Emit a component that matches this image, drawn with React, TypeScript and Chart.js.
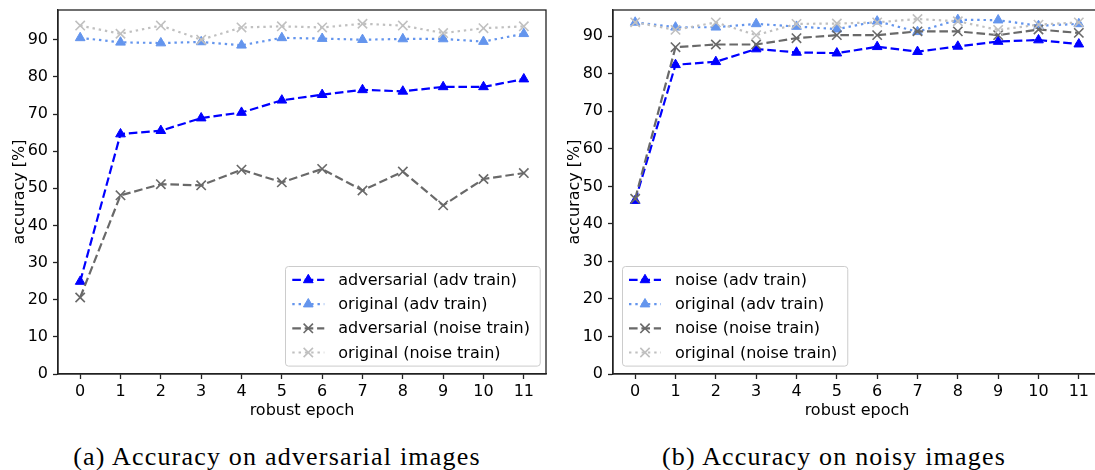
import React, { useEffect, useRef } from "react";
import { Chart, registerables } from "chart.js";
import { drawPoint } from "chart.js/helpers";

Chart.register(...registerables);

// ---------- data ----------
const epochs = [0, 1, 2, 3, 4, 5, 6, 7, 8, 9, 10, 11];
const yTickValues = [0, 10, 20, 30, 40, 50, 60, 70, 80, 90];

// (a) accuracy on adversarial images
const aAdversarialAdvTrain = [24.9, 64.6, 65.5, 68.9, 70.4, 73.7, 75.2, 76.5, 76.1, 77.3, 77.3, 79.4];
const aOriginalAdvTrain = [90.5, 89.3, 89.1, 89.4, 88.5, 90.5, 90.3, 90.0, 90.2, 90.2, 89.5, 91.6];
const aAdversarialNoiseTrain = [20.6, 48.1, 51.1, 50.8, 55.0, 51.6, 55.2, 49.4, 54.5, 45.4, 52.5, 54.1];
const aOriginalNoiseTrain = [93.8, 91.6, 93.8, 90.0, 93.3, 93.6, 93.3, 94.3, 93.8, 91.8, 93.1, 93.6];

// (b) accuracy on noisy images
const bNoiseAdvTrain = [46.2, 82.4, 83.2, 86.6, 85.7, 85.5, 87.2, 85.9, 87.3, 88.6, 89.0, 87.9];
const bOriginalAdvTrain = [93.7, 92.4, 92.4, 93.3, 92.6, 91.9, 94.0, 91.2, 94.4, 94.3, 92.8, 93.3];
const bNoiseNoiseTrain = [46.7, 87.1, 87.8, 87.8, 89.5, 90.3, 90.3, 91.3, 91.3, 90.3, 91.8, 90.9];
const bOriginalNoiseTrain = [93.7, 91.7, 93.7, 90.3, 93.3, 93.4, 93.7, 94.6, 94.0, 91.7, 93.1, 93.7];

const labelsA = ["adversarial (adv train)", "original (adv train)", "adversarial (noise train)", "original (noise train)"];
const labelsB = ["noise (adv train)", "original (adv train)", "noise (noise train)", "original (noise train)"];

const captionA = "(a) Accuracy on adversarial images";
const captionB = "(b) Accuracy on noisy images";
const xTitle = "robust epoch";
const yTitle = "accuracy [%]";

// ---------- styles ----------
const FONT = '"DejaVu Sans"';
const FS = 16;
const LW = 2.2;
const DASHED = [8.6, 3.8];
const DOTTED = [2.4, 3.9];
const styles = [
  { color: "#0000ff", dash: DASHED, marker: "triangle" },
  { color: "#6495ed", dash: DOTTED, marker: "triangle" },
  { color: "#696969", dash: DASHED, marker: "crossRot" },
  { color: "#c0c0c0", dash: DOTTED, marker: "crossRot" },
];

function makeDatasets(labels: string[], series: number[][]) {
  return series.map((vals, i) => {
    const st = styles[i];
    const isTri = st.marker === "triangle";
    return {
      label: labels[i],
      data: vals.map((v, j) => ({ x: epochs[j], y: v })),
      borderColor: st.color,
      backgroundColor: st.color,
      borderWidth: LW,
      borderDash: st.dash,
      borderCapStyle: "butt",
      pointStyle: st.marker,
      pointRadius: isTri ? 5.6 : 6.6,
      pointBorderWidth: isTri ? 1 : 1.6,
      pointBackgroundColor: st.color,
      pointBorderColor: st.color,
      tension: 0,
      order: series.length - i,
    };
  });
}

const framePlugin = {
  id: "frame",
  afterDatasetsDraw(chart: any) {
    const { ctx, chartArea } = chart;
    ctx.save();
    ctx.strokeStyle = "#222";
    ctx.lineWidth = 1.3;
    ctx.strokeRect(chartArea.left, chartArea.top, chartArea.right - chartArea.left, chartArea.bottom - chartArea.top);
    ctx.restore();
  },
};

const legendPlugin = {
  id: "mplLegend",
  afterDraw(chart: any, _args: any, opts: any) {
    const { ctx, chartArea } = chart;
    const ds = chart.data.datasets as any[];
    ctx.save();
    ctx.font = `${FS}px ${FONT}`;
    const textW = Math.max(...ds.map((d) => ctx.measureText(d.label).width));
    const padL = 7, handle = 32, gap = 14, padR = 10, padY = 13.5, rowH = 24.2;
    const w = padL + handle + gap + textW + padR;
    const h = padY * 2 + rowH * (ds.length - 1);
    const x0 = opts.side === "right" ? chartArea.right - 6 - w : chartArea.left + 9;
    const y0 = chartArea.bottom - 8 - h;
    ctx.beginPath();
    (ctx as any).roundRect(Math.round(x0) + 0.5, Math.round(y0) + 0.5, w, h, 3);
    ctx.fillStyle = "rgba(255,255,255,0.8)";
    ctx.fill();
    ctx.strokeStyle = "#cccccc";
    ctx.lineWidth = 1;
    ctx.stroke();
    ds.forEach((d, i) => {
      const cy = y0 + padY + i * rowH;
      ctx.save();
      ctx.strokeStyle = d.borderColor;
      ctx.lineWidth = d.borderWidth;
      ctx.lineCap = "butt";
      ctx.setLineDash(d.borderDash || []);
      ctx.beginPath();
      ctx.moveTo(x0 + padL, cy);
      ctx.lineTo(x0 + padL + handle, cy);
      ctx.stroke();
      ctx.setLineDash([]);
      ctx.fillStyle = d.pointBackgroundColor;
      ctx.strokeStyle = d.pointBorderColor;
      ctx.lineWidth = d.pointBorderWidth;
      drawPoint(ctx, { pointStyle: d.pointStyle, rotation: 0, radius: d.pointRadius, borderWidth: d.pointBorderWidth }, x0 + padL + handle / 2, cy);
      ctx.restore();
      ctx.fillStyle = "#000";
      ctx.textBaseline = "middle";
      ctx.textAlign = "left";
      ctx.fillText(d.label, x0 + padL + handle + gap, cy + 1);
    });
    ctx.restore();
  },
};

function makeConfig(labels: string[], series: number[][], yMax: number, side: string): any {
  return {
    type: "line",
    data: { datasets: makeDatasets(labels, series) },
    plugins: [framePlugin, legendPlugin],
    options: {
      animation: false,
      responsive: false,
      events: [],
      layout: { padding: { left: 0, top: 10, right: 14, bottom: 0 } },
      plugins: {
        legend: { display: false },
        tooltip: { enabled: false },
        mplLegend: { side },
      },
      scales: {
        x: {
          type: "linear",
          min: -0.55,
          max: 11.55,
          afterBuildTicks: (s: any) => {
            s.ticks = epochs.map((v) => ({ value: v }));
          },
          afterFit: (s: any) => {
            s.height = 56;
            s.paddingLeft = 0;
            s.paddingRight = 0;
            s.paddingTop = 0;
            s.paddingBottom = 0;
          },
          grid: { drawOnChartArea: false, drawTicks: true, tickLength: 5, tickColor: "#222", tickWidth: 1.3 },
          border: { display: true, color: "#222", width: 1.3 },
          ticks: { color: "#000", font: { family: FONT, size: FS }, padding: 3, maxRotation: 0, autoSkip: false },
          title: { display: true, text: xTitle, color: "#000", font: { family: FONT, size: FS }, padding: { top: 0, bottom: 10 } },
        },
        y: {
          type: "linear",
          min: 0,
          max: yMax,
          afterBuildTicks: (s: any) => {
            s.ticks = yTickValues.map((v) => ({ value: v }));
          },
          afterFit: (s: any) => {
            s.width = 58;
            s.paddingLeft = 0;
            s.paddingRight = 0;
            s.paddingTop = 0;
            s.paddingBottom = 0;
          },
          grid: { drawOnChartArea: false, drawTicks: true, tickLength: 5, tickColor: "#222", tickWidth: 1.3 },
          border: { display: true, color: "#222", width: 1.3 },
          ticks: { color: "#000", font: { family: FONT, size: FS }, padding: 5, autoSkip: false },
          title: { display: true, text: yTitle, color: "#000", font: { family: FONT, size: FS }, padding: { top: 10, bottom: 0 } },
        },
      },
    },
  };
}

export default function App() {
  const refA = useRef<HTMLCanvasElement | null>(null);
  const refB = useRef<HTMLCanvasElement | null>(null);

  useEffect(() => {
    const cA = new Chart(
      refA.current as HTMLCanvasElement,
      makeConfig(labelsA, [aAdversarialAdvTrain, aOriginalAdvTrain, aAdversarialNoiseTrain, aOriginalNoiseTrain], 98, "right")
    );
    const cB = new Chart(
      refB.current as HTMLCanvasElement,
      makeConfig(labelsB, [bNoiseAdvTrain, bOriginalAdvTrain, bNoiseNoiseTrain, bOriginalNoiseTrain], 97, "left")
    );
    return () => {
      cA.destroy();
      cB.destroy();
    };
  }, []);

  const captionStyle: React.CSSProperties = {
    position: "absolute",
    top: 444,
    width: 600,
    textAlign: "center",
    fontFamily: '"Liberation Serif", serif',
    fontSize: 26,
    lineHeight: "26px",
    letterSpacing: "1.2px",
    color: "#000",
    whiteSpace: "nowrap",
  };

  return (
    <div style={{ position: "fixed", left: 0, top: 0, width: 1095, height: 470, overflow: "hidden", background: "#fff" }}>
      <canvas ref={refA} width={560} height={430} style={{ position: "absolute", left: 0, top: 0, width: 560, height: 430 }} />
      <canvas ref={refB} width={560} height={430} style={{ position: "absolute", left: 555, top: 0, width: 560, height: 430 }} />
      <div style={{ ...captionStyle, left: 277 - 300 }}>{captionA}</div>
      <div style={{ ...captionStyle, left: 834 - 300 }}>{captionB}</div>
    </div>
  );
}
